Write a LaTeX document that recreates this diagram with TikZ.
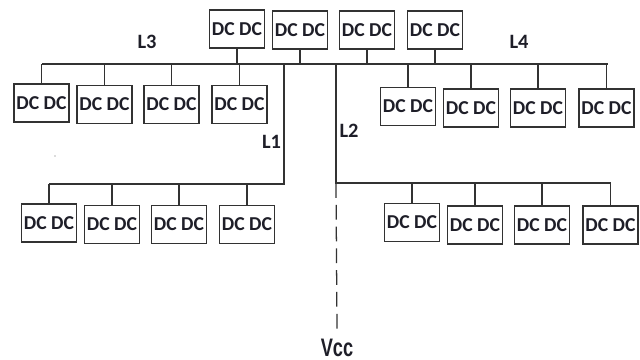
\documentclass[tikz,border=0pt]{standalone}
\usepackage{fontspec}
\setmainfont{Carlito}
\newfontfamily\vccfont{Liberation Sans}[BoldFont={Liberation Sans Bold}]
\usepackage{xcolor}
\usetikzlibrary{positioning,calc}
\definecolor{ink}{RGB}{30,30,40}
\definecolor{wire}{RGB}{50,50,50}
\tikzset{
  conv/.style={draw=wire,line width=1.1pt,fill=white,minimum width=1.38cm,
    minimum height=0.95cm,inner sep=0pt,font=\fontsize{14}{16}\selectfont\bfseries,text=ink},
  bus/.style={wire,line width=1.1pt},
  feed/.style={wire,line width=0.9pt,dash pattern=on 10.5pt off 5pt},
  lbl/.style={font=\fontsize{14.5}{16}\selectfont\bfseries,text=ink,inner sep=0pt}
}

\begin{document}
\begin{tikzpicture}[x=0.025cm,y=-0.025cm]
  \useasboundingbox (0,0) rectangle (640,360);
  % converters above the main bus
  \node[conv] (t1) at (237,29) {DC DC};
  \node[conv] (t2) at (300,30) {DC DC};
  \node[conv] (t3) at (367,30) {DC DC};
  \node[conv] (t4) at (435,30) {DC DC};
  % branch L3
  \node[conv] (a1) at (41.5,103) {DC DC};
  \node[conv] (a2) at (104.5,104.5) {DC DC};
  \node[conv] (a3) at (171.5,104.5) {DC DC};
  \node[conv] (a4) at (239.5,104.5) {DC DC};
  % branch L4
  \node[conv] (b1) at (408,106.5) {DC DC};
  \node[conv] (b2) at (471,108) {DC DC};
  \node[conv] (b3) at (538,108) {DC DC};
  \node[conv] (b4) at (606.5,108) {DC DC};
  % branch L1
  \node[conv] (c1) at (49,223) {DC DC};
  \node[conv] (c2) at (112,224.5) {DC DC};
  \node[conv] (c3) at (179,224.5) {DC DC};
  \node[conv] (c4) at (247,224.5) {DC DC};
  % branch L2
  \node[conv] (d1) at (412,222.5) {DC DC};
  \node[conv] (d2) at (475,225) {DC DC};
  \node[conv] (d3) at (542,225) {DC DC};
  \node[conv] (d4) at (610.5,225) {DC DC};

  \coordinate (w3) at (42,64);
  \coordinate (e4) at (608,64);
  \coordinate (j1) at (284,64);
  \coordinate (k1) at (284,184);
  \coordinate (j2) at (336,64);
  \coordinate (k2) at (336,183);

  \node[lbl] (l3) at (147,42) {L3};
  \node[lbl] (l4) at (519,42) {L4};
  \node[lbl] (l1) at (271.5,142) {L1};
  \node[lbl] (l2) at (349,131) {L2};
  \node[font=\vccfont\fontsize{18}{20}\selectfont\bfseries,text=ink,inner sep=0pt,
    xscale=0.72,transform shape] (vcc) at (337,348) {Vcc};

  % main bus and branches
  \draw[bus] (w3) -- (e4);
  \draw[bus] (j1) -- (k1) -- (c1.north |- k1);
  \draw[bus] (j2) -- (k2) -- (d4.north |- k2);
  \draw[feed] (k2) -- ($(vcc.north)+(0,-9)$);
  \draw[bus] (t1.south) -- (t1.south |- w3);
  \draw[bus] (t2.south) -- (t2.south |- w3);
  \draw[bus] (t3.south) -- (t3.south |- w3);
  \draw[bus] (t4.south) -- (t4.south |- w3);
  \draw[bus] (a1.north) -- (a1.north |- w3);
  \draw[bus] (a2.north) -- (a2.north |- w3);
  \draw[bus] (a3.north) -- (a3.north |- w3);
  \draw[bus] (a4.north) -- (a4.north |- w3);
  \draw[bus] (b1.north) -- (b1.north |- w3);
  \draw[bus] (b2.north) -- (b2.north |- w3);
  \draw[bus] (b3.north) -- (b3.north |- w3);
  \draw[bus] (b4.north) -- (b4.north |- w3);
  \draw[bus] (c1.north) -- (c1.north |- k1);
  \draw[bus] (c2.north) -- (c2.north |- k1);
  \draw[bus] (c3.north) -- (c3.north |- k1);
  \draw[bus] (c4.north) -- (c4.north |- k1);
  \draw[bus] (d1.north) -- (d1.north |- k2);
  \draw[bus] (d2.north) -- (d2.north |- k2);
  \draw[bus] (d3.north) -- (d3.north |- k2);
  \draw[bus] (d4.north) -- (d4.north |- k2);
  \fill[black!60] (55,156) circle (0.7);
\end{tikzpicture}
\end{document}
